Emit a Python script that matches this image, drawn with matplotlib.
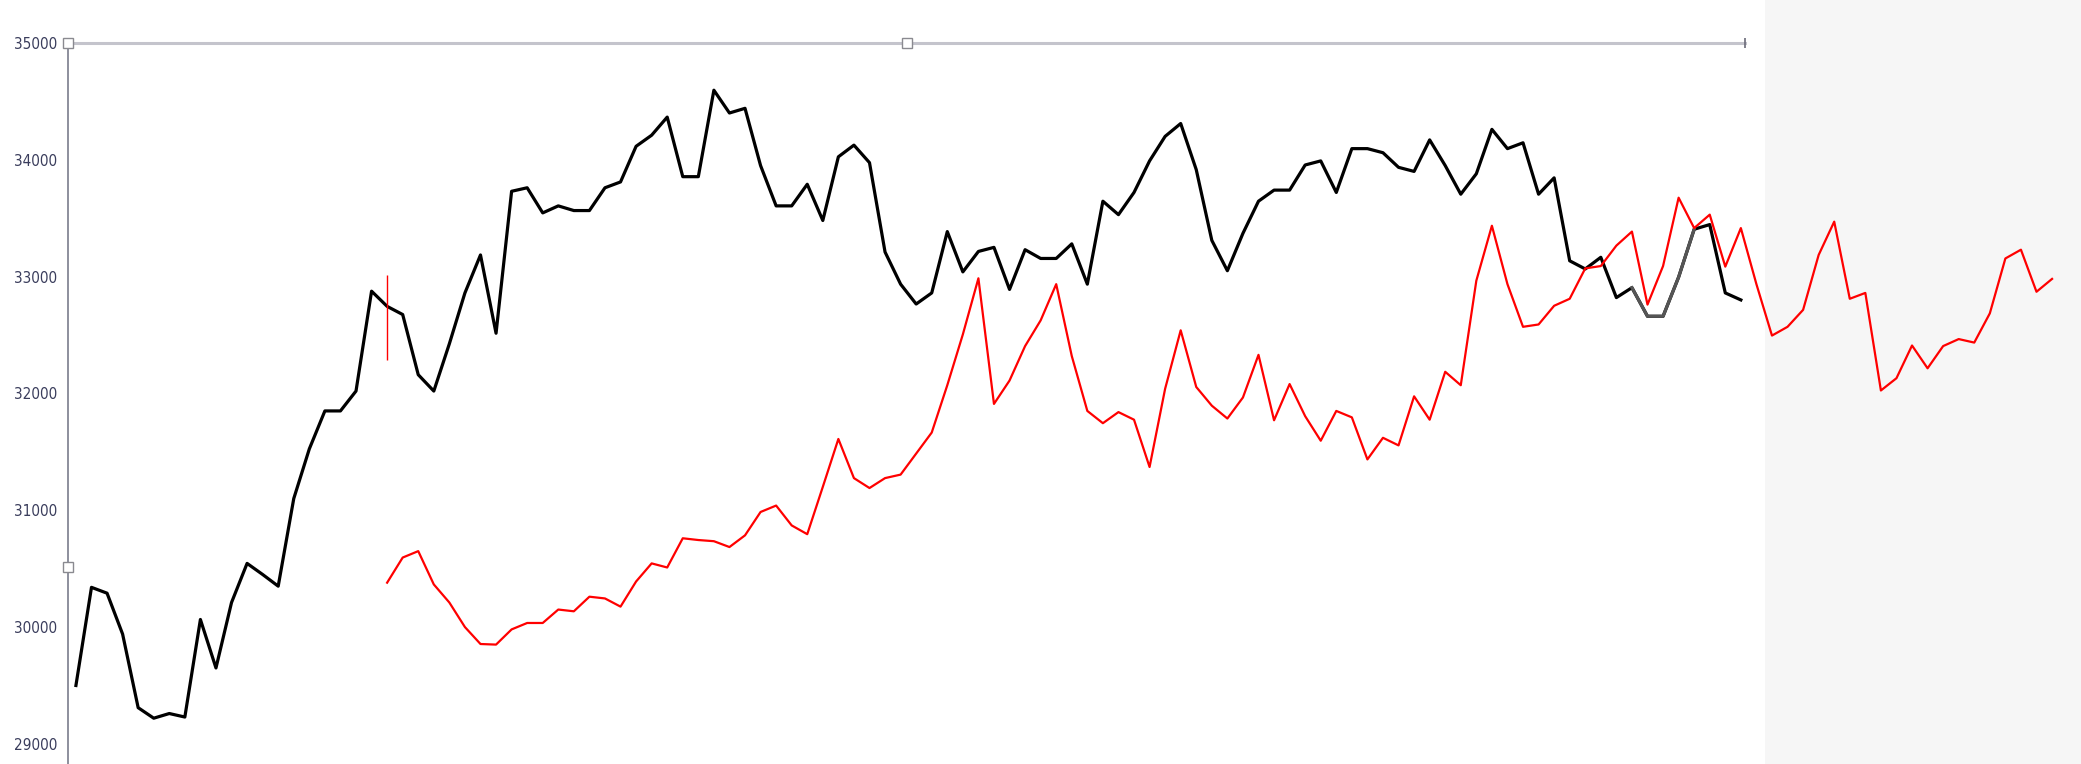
import matplotlib.pyplot as plt
from matplotlib.patches import Rectangle
import numpy as np

# values (index = time step)
black_start = 0
black_vals = [29500, 30340, 30290, 29940, 29310, 29220, 29260, 29230, 30065, 29650,
              30210, 30545, 30450, 30350, 31100, 31525, 31850, 31850, 32020, 32875,
              32745, 32675, 32160, 32020, 32425, 32860, 33185, 32515, 33730, 33760,
              33545, 33605, 33565, 33565, 33760, 33810, 34115, 34210, 34365, 33855,
              33855, 34595, 34400, 34440, 33950, 33605, 33605, 33790, 33480, 34025,
              34125, 33975, 33210, 32935, 32765, 32860, 33385, 33040, 33215, 33250,
              32890, 33230, 33155, 33155, 33280, 32935, 33645, 33530, 33720, 33990,
              34200, 34310, 33915, 33310, 33050, 33370, 33645, 33740, 33740, 33955,
              33990, 33720, 34095, 34095, 34060, 33935, 33900, 34170, 33950, 33705,
              33880, 34260, 34095, 34145, 33705, 33845, 33135, 33065, 33165, 32820,
              32905, 32660, 32660, 32995, 33405, 33445, 32860, 32800]

red_start = 20
red_vals = [30380, 30595, 30650, 30365, 30210, 30000, 29855, 29850, 29980, 30035,
            30035, 30150, 30135, 30260, 30245, 30175, 30390, 30545, 30510, 30760,
            30745, 30735, 30685, 30785, 30985, 31040, 30870, 30795, 31200, 31610,
            31275, 31190, 31275, 31305, 31485, 31665, 32070, 32505, 32985, 31910,
            32110, 32405, 32625, 32935, 32320, 31850, 31745, 31840, 31775, 31370,
            32040, 32540, 32055, 31895, 31785, 31965, 32330, 31770, 32080, 31805,
            31595, 31850, 31795, 31435, 31620, 31555, 31975, 31775, 32185, 32070,
            32965, 33435, 32935, 32570, 32590, 32750, 32810, 33070, 33090, 33265,
            33385, 32760, 33090, 33675, 33415, 33530, 33085, 33415, 32935, 32495,
            32570, 32715, 33185, 33470, 32810, 32860, 32025, 32130, 32410, 32215,
            32405, 32465, 32435, 32685, 33155, 33230, 32870, 32980]

y_ticks = [29000, 30000, 31000, 32000, 33000, 34000, 35000]

black_x = np.arange(black_start, black_start + len(black_vals))
red_x = np.arange(red_start, red_start + len(red_vals))

fig = plt.figure(figsize=(20.81, 7.64), dpi=100)
# grey panel on the right side, full height
fig.add_artist(Rectangle((1765 / 2081, 0), 1 - 1765 / 2081, 1, transform=fig.transFigure,
                         color='#f6f6f6', lw=0, zorder=0))

ax = fig.add_axes([68.3 / 2081, 0, 1 - 68.3 / 2081, 1 - 42.9 / 764])
ax.patch.set_alpha(0)

x_left, x_right = -0.49, 128.86
ax.set_xlim(x_left, x_right)
ax.set_ylim(28828, 35000)

# top border line and selection handles
ax.plot([x_left, 107.26], [35000, 35000], color='#c4c4cc', lw=2.2, clip_on=False, zorder=1)
ax.plot([x_left, 53.4, x_left], [35000, 35000, 30510], ls='none', marker='s',
        ms=6.5, mfc='white', mec='#8a8a90', mew=1, clip_on=False, zorder=5)
ax.plot([107.26], [35000], ls='none', marker='|', ms=7, mec='#6a6a78', mew=1.2,
        clip_on=False, zorder=5)

ax.plot(black_x, black_vals, color='black', lw=2.3, zorder=2)
ax.plot(black_x[100:105], black_vals[100:105], color='#555555', lw=2.3, zorder=2)
ax.plot(red_x, red_vals, color='#ff0000', lw=1.6, zorder=3)
ax.vlines(20, 32285, 33010, color='#ff0000', lw=1, zorder=3)

for side in ['top', 'right', 'bottom']:
    ax.spines[side].set_visible(False)
ax.spines['left'].set_color('#7a7d8c')
ax.spines['left'].set_linewidth(1.2)

ax.set_xticks([])
ax.set_yticks(y_ticks)
ax.set_yticklabels([str(v) for v in y_ticks], family='DejaVu Sans', stretch='condensed',
                   fontsize=11, color='#3a3d5c')
ax.tick_params(axis='y', length=0, pad=8)

fig.savefig('out.png', dpi=100)
